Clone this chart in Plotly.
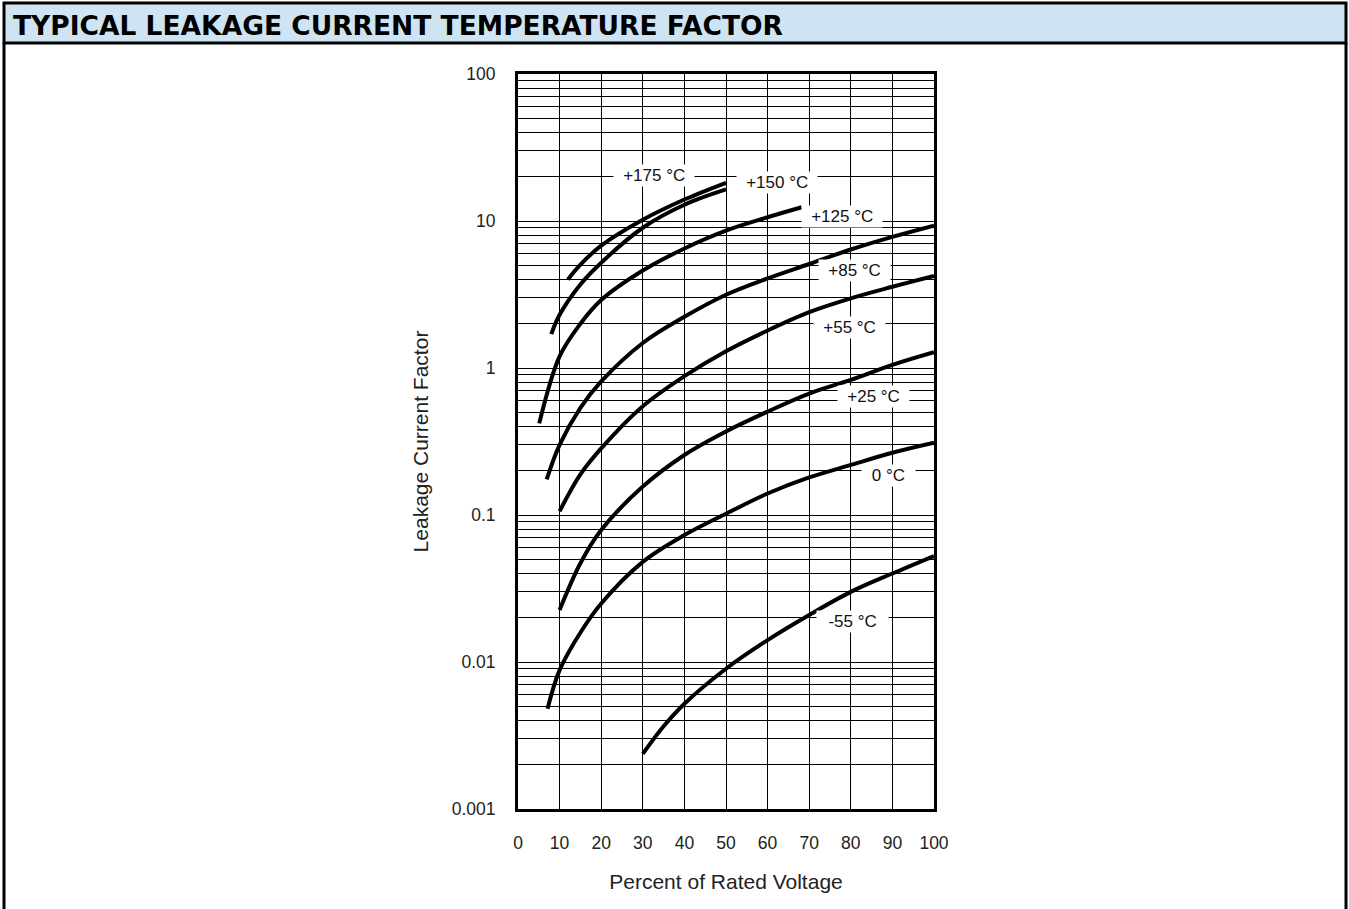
import math
import plotly.graph_objects as go

# ---- data ----
v_175 = [12, 15, 20, 30, 40, 50]
f_175 = [4.0, 5.05, 6.8, 10.2, 14.0, 18.2]

v_150 = [8, 10, 15, 20, 30, 40, 50]
f_150 = [1.7, 2.3, 3.7, 5.2, 9.0, 12.9, 16.4]

v_125 = [5.1, 10, 15, 20, 30, 40, 50, 60, 68.2]
f_125 = [0.42, 1.2, 2.0, 2.9, 4.6, 6.5, 8.6, 10.6, 12.4]

v_85 = [6.9, 10, 15, 20, 30, 40, 50, 60, 70, 80, 90, 100]
f_85 = [0.175, 0.30, 0.536, 0.81, 1.48, 2.23, 3.15, 4.07, 5.1, 6.4, 7.8, 9.3]

v_55 = [10, 15, 20, 30, 40, 50, 60, 70, 80, 90, 100]
f_55 = [0.106, 0.189, 0.284, 0.55, 0.88, 1.3, 1.8, 2.4, 2.98, 3.57, 4.23]

v_25 = [10, 15, 20, 30, 40, 50, 60, 70, 80, 90, 100]
f_25 = [0.0226, 0.047, 0.079, 0.156, 0.256, 0.37, 0.505, 0.67, 0.83, 1.05, 1.28]

v_0 = [7.1, 10, 15.4, 20, 30, 40, 50, 60, 70, 80, 90, 100]
f_0 = [0.0048, 0.0088, 0.0165, 0.025, 0.048, 0.073, 0.102, 0.140, 0.180, 0.219, 0.265, 0.31]

v_m55 = [30, 35, 40, 50, 60, 70, 80, 90, 100]
f_m55 = [0.00237, 0.00365, 0.0052, 0.009, 0.0141, 0.0209, 0.030, 0.040, 0.0526]

curves = [
    ("+175 °C", v_175, f_175),
    ("+150 °C", v_150, f_150),
    ("+125 °C", v_125, f_125),
    ("+85 °C", v_85, f_85),
    ("+55 °C", v_55, f_55),
    ("+25 °C", v_25, f_25),
    ("0 °C", v_0, f_0),
    ("-55 °C", v_m55, f_m55),
]

# label texts and positions (x in %, y as leakage factor)
label_text = ["+175 °C", "+150 °C", "+125 °C", "+85 °C", "+55 °C", "+25 °C", "0 °C", "-55 °C"]
label_x = [32.7, 62.2, 78.0, 81.0, 79.6, 85.4, 89.0, 80.4]
label_y = [20.5, 18.3, 10.8, 4.64, 1.90, 0.635, 0.187, 0.019]

x_ticks = [0, 10, 20, 30, 40, 50, 60, 70, 80, 90, 100]
y_ticks = [0.001, 0.01, 0.1, 1, 10, 100]
y_tick_text = ["0.001", "0.01", "0.1", "1", "10", "100"]
y_minor = [m * d for d in [0.001, 0.01, 0.1, 1, 10] for m in range(2, 10)]

TITLE = "TYPICAL LEAKAGE CURRENT TEMPERATURE FACTOR"
FONT = "Liberation Sans, Arial, Helvetica, sans-serif"

fig = go.Figure()
for name, xs, ys in curves:
    fig.add_trace(go.Scatter(
        x=xs, y=ys, mode="lines", name=name,
        line=dict(color="black", width=4, shape="spline", smoothing=1.0),
        showlegend=False, hoverinfo="x+y+name",
    ))

for t, x, y in zip(label_text, label_x, label_y):
    w = 9.2 * len(t) + 14
    fig.add_annotation(x=x, y=math.log10(y), xref="x", yref="y", text=t, showarrow=False,
                       bgcolor="white", borderpad=1, width=w,
                       font=dict(family=FONT, size=17, color="#111"))

W, H = 1349, 909
ML, MR, MT, MB = 518, 415, 74, 100
pw, ph = W - ML - MR, H - MT - MB


def px(xp):
    return (xp - ML) / pw


def py(yp):
    return (H - MB - yp) / ph


# header bar
fig.add_shape(type="rect", xref="paper", yref="paper",
              x0=px(4), x1=px(1346), y0=py(43), y1=py(3),
              fillcolor="#cfe4f2", line=dict(color="black", width=3), layer="below")
# frame side lines
fig.add_shape(type="line", xref="paper", yref="paper",
              x0=px(4), x1=px(4), y0=py(43), y1=py(912),
              line=dict(color="black", width=3))
fig.add_shape(type="line", xref="paper", yref="paper",
              x0=px(1346), x1=px(1346), y0=py(43), y1=py(912),
              line=dict(color="black", width=3))

fig.add_annotation(xref="paper", yref="paper", x=px(11), y=py(25),
                   xanchor="left", yanchor="middle", showarrow=False,
                   text="<b>" + TITLE + "</b>",
                   font=dict(family="DejaVu Sans, sans-serif", size=26.5,
                             color="black"))

fig.update_layout(
    width=W, height=H,
    margin=dict(l=ML, r=MR, t=MT, b=MB, autoexpand=False),
    paper_bgcolor="white", plot_bgcolor="white",
    font=dict(family=FONT, color="#222"),
    xaxis=dict(
        range=[0, 100], tickvals=x_ticks, ticks="", ticklabelstandoff=16,
        showgrid=True, gridcolor="black", gridwidth=1.2,
        showline=True, linecolor="black", linewidth=3, mirror=True,
        zeroline=False, tickfont=dict(size=17.5, family=FONT, color="#222"),
        title=dict(text="Percent of Rated Voltage", standoff=23,
                   font=dict(size=21, family=FONT, color="#222")),
    ),
    yaxis=dict(
        type="log", range=[-3, 2], tickvals=y_ticks, ticktext=y_tick_text,
        ticks="", ticklabelstandoff=16,
        showgrid=True, gridcolor="black", gridwidth=1.2,
        minor=dict(tickvals=y_minor, showgrid=True, gridcolor="black", gridwidth=1.2, ticks=""),
        showline=True, linecolor="black", linewidth=3, mirror=True,
        zeroline=False, tickfont=dict(size=17.5, family=FONT, color="#222"),
        title=dict(text="Leakage Current Factor", standoff=18,
                   font=dict(size=21, family=FONT, color="#222")),
    ),
)

fig.write_html("out.html", config={"displayModeBar": False},
               post_script="document.body.style.margin='0px';")
